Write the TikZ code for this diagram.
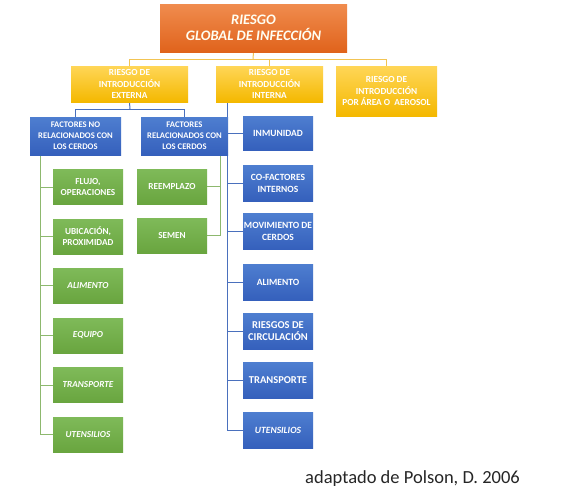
\documentclass[tikz,border=0pt]{standalone}
\usepackage{fontspec}
\setmainfont{Carlito}
\usetikzlibrary{backgrounds}
\definecolor{orTop}{HTML}{F08C4E}
\definecolor{orBot}{HTML}{E0631C}
\definecolor{yeTop}{HTML}{FFD657}
\definecolor{yeBot}{HTML}{F4B800}
\definecolor{blTop}{HTML}{4E7ED0}
\definecolor{blBot}{HTML}{3560BC}
\definecolor{grTop}{HTML}{7FBA59}
\definecolor{grBot}{HTML}{69A53F}
\definecolor{lnYe}{HTML}{F2C453}
\definecolor{lnBl}{HTML}{4A70BD}
\definecolor{lnGr}{HTML}{8DB86E}
\tikzset{
  box/.style={inner xsep=0pt, inner ysep=1pt, align=center, text=white, font=\bfseries},
  orbox/.style={box, top color=orTop, bottom color=orBot, minimum width=187pt, minimum height=48pt, font=\bfseries\itshape\fontsize{14.5}{16}\selectfont, text=white!95!yellow},
  yebox/.style={box, top color=yeTop, bottom color=yeBot, minimum height=36pt, font=\bfseries\fontsize{9.3}{11.6}\selectfont},
  blbox/.style={box, top color=blTop, bottom color=blBot, minimum width=70pt, minimum height=36pt, font=\bfseries\fontsize{9.5}{12}\selectfont},
  blbig/.style={font=\bfseries\fontsize{10.5}{11.5}\selectfont},
  bltop/.style={minimum height=38pt, font=\bfseries\fontsize{8.6}{11}\selectfont},
  grbox/.style={box, top color=grTop, bottom color=grBot, minimum width=70pt, minimum height=35pt, font=\bfseries\fontsize{9.2}{10.8}\selectfont},
  grit/.style={font=\bfseries\itshape\fontsize{9.2}{10.8}\selectfont},
  ye/.style={draw=lnYe, line width=1pt},
  bl/.style={draw=lnBl, line width=1pt},
  gr/.style={draw=lnGr, line width=1pt},
}
\begin{document}
\begin{tikzpicture}[x=1pt,y=-1pt]
\useasboundingbox (0,0) rectangle (562,496);
\coordinate (bus) at (253,59);
\coordinate (bus2) at (130,109);
% top level
\node[orbox] (top) at (253.5,28) {RIESGO\\GLOBAL DE INFECCIÓN};
\node[yebox, minimum width=117pt] (yext) at (129.5,84) {RIESGO DE\\INTRODUCCIÓN\\EXTERNA};
\node[yebox, minimum width=107pt] (yint) at (269.5,84) {RIESGO DE\\INTRODUCCIÓN\\INTERNA};
\node[yebox, minimum width=101pt, minimum height=50pt] (yaer) at (386.5,91) {RIESGO DE\\INTRODUCCIÓN\\POR ÁREA O \ AEROSOL};
% blue factor boxes
\node[blbox, bltop, minimum width=91pt] (bno) at (75.5,136) {FACTORES NO\\RELACIONADOS CON\\LOS CERDOS};
\node[blbox, bltop, minimum width=87pt] (bsi) at (184.5,136) {FACTORES\\RELACIONADOS CON\\LOS CERDOS};
% green left column
\node[grbox] (g1) at (88,187) {FLUJO,\\OPERACIONES};
\node[grbox] (g2) at (88,236.5) {UBICACIÓN,\\PROXIMIDAD};
\node[grbox, grit] (g3) at (88,285.5) {ALIMENTO};
\node[grbox, grit] (g4) at (88,335.5) {EQUIPO};
\node[grbox, grit] (g5) at (88,385) {TRANSPORTE};
\node[grbox, grit] (g6) at (88,434.5) {UTENSILIOS};
% green middle
\node[grbox] (r1) at (172,186.5) {REEMPLAZO};
\node[grbox] (r2) at (172,235.5) {SEMEN};
% blue right column
\node[blbox, minimum height=34pt] (b0) at (278,133) {INMUNIDAD};
\node[blbox] (b1) at (278,183) {CO-FACTORES\\INTERNOS};
\node[blbox] (b2) at (278,231.5) {MOVIMIENTO DE\\CERDOS};
\node[blbox] (b3) at (278,282) {ALIMENTO};
\node[blbox, blbig] (b4) at (278,331) {RIESGOS DE\\CIRCULACIÓN};
\node[blbox, blbig] (b5) at (278,380.5) {TRANSPORTE};
\node[blbox, font=\bfseries\itshape\fontsize{9.5}{12}\selectfont] (b6) at (278,430) {UTENSILIOS};
% connectors
\begin{scope}[on background layer]
\fill[white] (0,0) rectangle (562,496);
\draw[ye] (top.south) -- (bus);
\draw[ye] (bus) -| (yext.north);
\draw[ye] (bus) -| (yint.north);
\draw[ye] (bus) -| (yaer.north);
\draw[bl] (yext.south) -- (bus2);
\draw[bl] (bus2) -| (bno.north);
\draw[bl] (bus2) -| (bsi.north);
\coordinate (gl) at (40,155);
\foreach \g in {g1,g2,g3,g4,g5,g6} {\draw[gr] (gl) |- (\g.west);}
\coordinate (gm) at (220,155);
\foreach \g in {r1,r2} {\draw[gr] (gm) |- (\g.east);}
\coordinate (bi) at (227,102);
\foreach \b in {b0,b1,b2,b3,b4,b5,b6} {\draw[bl] (bi) |- (\b.west);}
\end{scope}
\node[font=\fontsize{18.5}{20}\selectfont, text=black!85, anchor=base west, inner sep=0pt] (cap) at (305,483) {adaptado de Polson, D. 2006};
\end{tikzpicture}
\end{document}
